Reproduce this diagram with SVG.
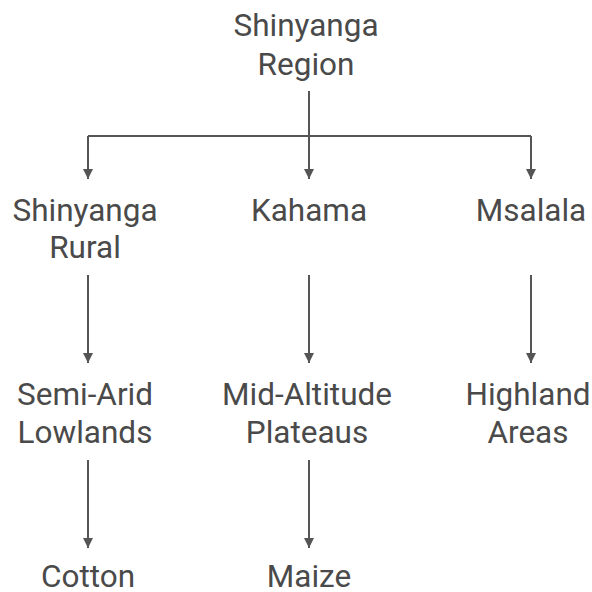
<svg xmlns="http://www.w3.org/2000/svg" width="592" height="592" viewBox="0 0 592 592">
<defs>
<marker id="ah" viewBox="0 0 10 10" refX="10" refY="5" markerWidth="10" markerHeight="10" markerUnits="userSpaceOnUse" orient="auto"><path d="M0,0 L10,5 L0,10 z" fill="#555"/></marker>
<style>
text{font-family:Roboto,"Liberation Sans",sans-serif;font-size:31.5px;fill:#4a4a4a;text-anchor:middle}
.c{stroke:#555;stroke-width:2;fill:none}
.a{marker-end:url(#ah)}
</style>
</defs>
<g id="connectors">
<path class="c" d="M309,91 V136"/>
<path class="c" d="M88,136 H531"/>
<path class="c a" d="M88,136 V179"/>
<path class="c a" d="M309,136 V179"/>
<path class="c a" d="M531,136 V179"/>
<path class="c a" d="M88,275 V363"/>
<path class="c a" d="M309,275 V363"/>
<path class="c a" d="M531,275 V363"/>
<path class="c a" d="M88,460 V548"/>
<path class="c a" d="M309,460 V548"/>
</g>
<g id="root"><text x="306" y="36">Shinyanga</text><text x="306" y="75">Region</text></g>
<g id="rural"><text x="85" y="221">Shinyanga</text><text x="85" y="258">Rural</text></g>
<g id="kahama"><text x="309" y="221">Kahama</text></g>
<g id="msalala"><text x="531" y="221">Msalala</text></g>
<g id="lowlands"><text x="85" y="405">Semi-Arid</text><text x="85" y="443">Lowlands</text></g>
<g id="plateaus"><text x="307" y="405">Mid-Altitude</text><text x="307" y="443">Plateaus</text></g>
<g id="highland"><text x="528" y="405">Highland</text><text x="528" y="443">Areas</text></g>
<g id="cotton"><text x="88" y="587">Cotton</text></g>
<g id="maize"><text x="309" y="587">Maize</text></g>
</svg>
